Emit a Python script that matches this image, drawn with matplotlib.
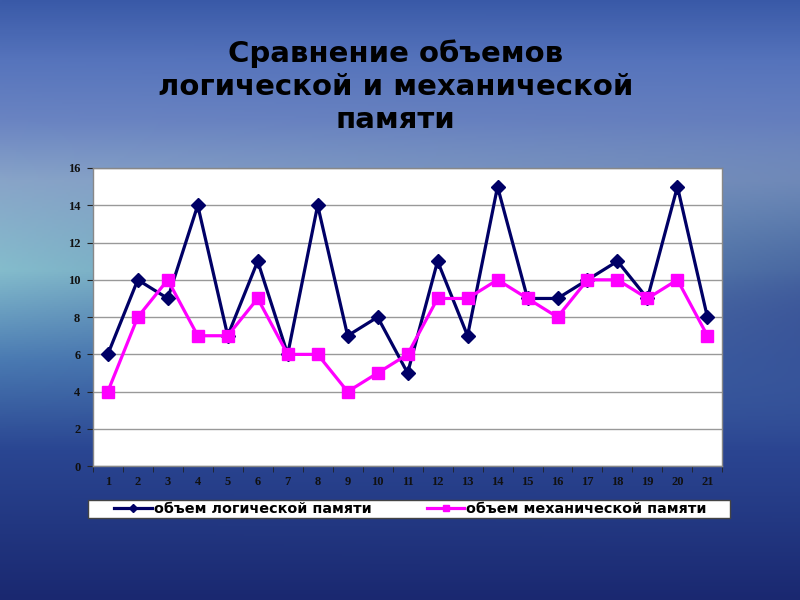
import numpy as np
import matplotlib.pyplot as plt
from matplotlib.colors import to_rgb
from matplotlib.patches import Rectangle

# data
points = list(range(1, 22))
logical = [6, 10, 9, 14, 7, 11, 6, 14, 7, 8, 5, 11, 7, 15, 9, 9, 10, 11, 9, 15, 8]
mechanical = [4, 8, 10, 7, 7, 9, 6, 6, 4, 5, 6, 9, 9, 10, 9, 8, 10, 10, 9, 10, 7]

title = 'Сравнение объемов\nлогической и механической\nпамяти'
label_logical = 'объем логической памяти'
label_mech = 'объем механической памяти'

fig = plt.figure(figsize=(8, 6), dpi=100)

# background: rough sky / sea gradient
bg = fig.add_axes([0, 0, 1, 1])
stops = [(0.0, '#3a5aa8'), (0.1, '#5674bc'), (0.2, '#6a84c2'), (0.3, '#88a4c8'),
         (0.45, '#84bccc'), (0.6, '#4a7ab2'), (0.75, '#2a4692'), (1.0, '#1a2870')]
h, w = 300, 400
ys = np.linspace(0, 1, h)
col = np.zeros((h, 3))
pos = [s[0] for s in stops]
for c in range(3):
    col[:, c] = np.interp(ys, pos, [to_rgb(s[1])[c] for s in stops])
img = np.repeat(col[:, None, :], w, axis=1)
xs = np.linspace(0, 1, w)
# push the right-hand middle towards deep blue
wgt = 0.75 * xs[None, :, None] * np.exp(-((ys[:, None, None] - 0.52) / 0.22) ** 2)
navy = np.array(to_rgb('#2e418e'))[None, None, :]
img = np.clip(img * (1 - wgt) + navy * wgt, 0, 1)
bg.imshow(img, aspect='auto', extent=[0, 1, 0, 1])
bg.axis('off')

fig.text(0.494, 0.856, title, ha='center', va='center', fontsize=21,
         fontweight='bold', color='black', linespacing=1.23)

ax = fig.add_axes([0.116, 0.223, 0.787, 0.497])
ax.set_facecolor('white')
ax.plot(points, logical, color='#000066', lw=2.3, marker='D', ms=7,
        label=label_logical)
ax.plot(points, mechanical, color='#ff00ff', lw=2.3, marker='s', ms=8,
        label=label_mech)
ax.set_xlim(0.5, 21.5)
ax.set_ylim(0, 16)
ax.set_yticks(range(0, 17, 2))
ax.set_xticks(points)
ax.set_xticks(np.arange(0.5, 22, 1), minor=True)
ax.tick_params(axis='x', which='major', length=0, pad=7)
ax.tick_params(axis='x', which='minor', length=4, color='#222222')
ax.tick_params(axis='y', length=4, color='#222222', pad=5)
for lab in ax.get_xticklabels() + ax.get_yticklabels():
    lab.set_fontsize(9)
    lab.set_fontweight('bold')
    lab.set_family('Liberation Serif')
    lab.set_color('#111111')
ax.yaxis.grid(True, color='#999999', lw=1)
ax.set_axisbelow(True)
for s in ax.spines.values():
    s.set_color('#888888')
    s.set_linewidth(1)

# legend box below the plot
fig.patches.append(Rectangle((0.11, 0.137), 0.803, 0.03, transform=fig.transFigure,
                             facecolor='white', edgecolor='#444444', lw=1))
fig.legend(loc='center left', bbox_to_anchor=(0.143, 0.152), ncol=2,
           frameon=False, borderpad=0, borderaxespad=0, handlelength=2.6,
           handletextpad=0.15, columnspacing=3.8, markerscale=0.6,
           prop={'size': 10.4, 'weight': 'bold'})

fig.savefig('out.png', dpi=100)
